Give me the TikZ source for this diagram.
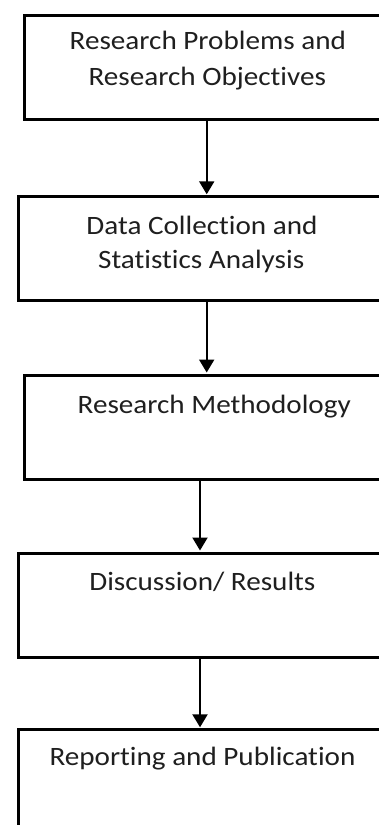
\documentclass[tikz,border=0pt]{standalone}
\usepackage{fontspec}
\setmainfont[Ligatures={NoCommon,NoRare,NoContextual},FakeStretch=1.1]{Carlito}
\usetikzlibrary{arrows.meta}
\tikzset{
  box/.style={draw=black, line width=3pt, anchor=north west, inner sep=0pt, minimum width=420pt},
  lbl/.style={anchor=base, inner sep=0pt, font=\fontsize{26.5}{32}\selectfont, text=black!88},
  arr/.style={line width=2pt, -{Triangle[length=13pt,width=15pt]}, shorten >=1pt}
}
\begin{document}
\begin{tikzpicture}[x=1pt,y=-1pt]
\useasboundingbox (0,0) rectangle (379,825);
\clip (0,0) rectangle (379,825);
\fill[white] (0,0) rectangle (379,825);
% boxes
\node[box, minimum height=104pt] (b1) at (22.7,13.5) {};
\node[box, minimum height=103.7pt] (b2) at (16.7,195.3) {};
\node[box, minimum height=104.8pt] (b3) at (23,373.5) {};
\node[box, minimum height=104.5pt] (b4) at (16.7,551.5) {};
\node[box, minimum height=140pt] (b5) at (16.7,728.3) {};
% arrow columns
\coordinate (c1) at (206.7,0);
\coordinate (c2) at (200,0);
% texts
\node[lbl] (t1a) at (207.8,49.3) {Research Problems and};
\node[lbl] (t1b) at (207.3,85.6) {Research Objectives};
\node[lbl] (t2a) at (202,234) {Data Collection and};
\node[lbl] (t2b) at (201.2,268.3) {Statistics Analysis};
\node[lbl] (t3) at (214.2,413.5) {Research Methodology};
\node[lbl] (t4) at (202.4,590) {Discussion/ Results};
\node[lbl] (t5) at (202.5,765.6) {Reporting and Publication};
% connectors
\draw[arr] (b1.south -| c1) -- (b2.north -| c1);
\draw[arr] (b2.south -| c1) -- (b3.north -| c1);
\draw[arr] (b3.south -| c2) -- (b4.north -| c2);
\draw[arr] (b4.south -| c2) -- (b5.north -| c2);
\end{tikzpicture}
\end{document}
